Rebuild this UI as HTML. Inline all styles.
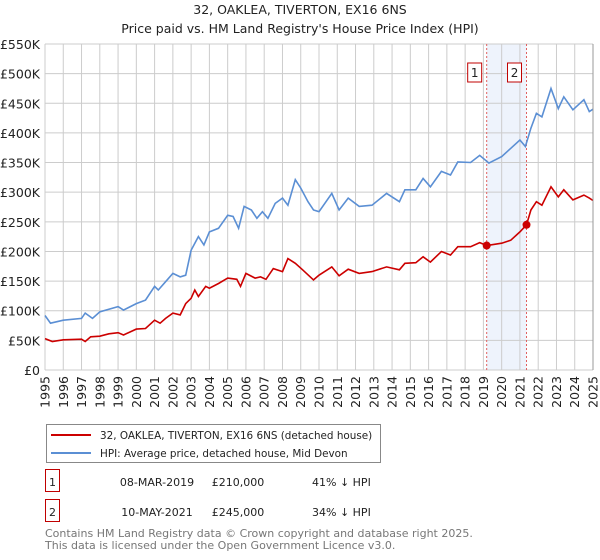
<!DOCTYPE html>
<html><head><meta charset="utf-8">
<style>
body{margin:0;background:#fff;font-family:"Liberation Sans","DejaVu Sans",sans-serif;}
#wrap{position:relative;width:600px;height:560px;overflow:hidden;}
svg text{font-family:"DejaVu Sans","Liberation Sans",sans-serif;}
</style></head><body>
<div id="wrap">
<svg id="chart" width="600" height="560"></svg>
</div>
<script>
const hpiYears=[1995,1995.3,1996,1997,1997.2,1997.6,1998,1999,1999.3,2000,2000.5,2001,2001.2,2001.6,2002,2002.4,2002.7,2003,2003.4,2003.7,2004,2004.5,2005,2005.3,2005.6,2005.9,2006.3,2006.6,2006.9,2007.2,2007.6,2008,2008.3,2008.7,2009,2009.4,2009.7,2010,2010.7,2011.1,2011.6,2012.2,2012.9,2013.7,2014.4,2014.7,2015.3,2015.7,2016.1,2016.7,2017.2,2017.6,2018.3,2018.8,2019.3,2020,2020.5,2021,2021.3,2021.6,2021.9,2022.2,2022.7,2023.1,2023.4,2023.9,2024.5,2024.8,2025];
const hpiValues=[92,79,84,87,96,87,98,107,101,112,118,141,135,149,163,157,160,202,225,211,233,239,261,259,239,276,270,256,267,256,281,290,278,321,307,284,270,267,298,270,290,276,278,298,284,304,304,323,309,335,329,351,350,362,349,360,374,388,377,408,433,427,475,441,461,439,456,436,440];
const priceYears=[1995,1995.4,1996,1997,1997.2,1997.5,1998,1998.5,1999,1999.3,2000,2000.5,2001,2001.3,2001.6,2002,2002.4,2002.7,2003,2003.2,2003.4,2003.8,2004,2004.5,2005,2005.5,2005.7,2006,2006.5,2006.8,2007.1,2007.5,2008,2008.3,2008.7,2009.1,2009.7,2010,2010.7,2011.1,2011.6,2012.2,2012.9,2013.7,2014.4,2014.7,2015.3,2015.7,2016.1,2016.7,2017.2,2017.6,2018.3,2018.8,2019.18,2020,2020.5,2021,2021.36,2021.6,2021.9,2022.2,2022.7,2023.1,2023.4,2023.9,2024.5,2024.8,2025];
const priceValues=[53,48,51,52,48,56,57,61,63,59,69,70,84,79,87,96,93,112,121,135,124,141,138,146,155,153,141,163,155,157,153,171,166,188,180,169,152,160,174,159,170,163,166,174,169,180,181,191,182,200,194,208,208,215,210,214,219,233,245,270,284,278,309,292,304,287,295,290,286];
const saleYears=[2019.18,2021.36];
const saleValues=[210,245];
const saleLabels=["1","2"];
const yTicks=[0,50,100,150,200,250,300,350,400,450,500,550];
const yTickLabels=["£0","£50K","£100K","£150K","£200K","£250K","£300K","£350K","£400K","£450K","£500K","£550K"];
const xTicks=[1995,1996,1997,1998,1999,2000,2001,2002,2003,2004,2005,2006,2007,2008,2009,2010,2011,2012,2013,2014,2015,2016,2017,2018,2019,2020,2021,2022,2023,2024,2025];

const NS="http://www.w3.org/2000/svg";
const svg=document.getElementById('chart');
const L=45,R=593,T=44,B=370;
const x=v=>L+(v-1995)/30*(R-L);
const y=v=>B-v/550*(B-T);
function mk(tag,attrs,parent){const e=document.createElementNS(NS,tag);for(const k in attrs)e.setAttribute(k,attrs[k]);(parent||svg).appendChild(e);return e;}

let t=mk('text',{x:300,y:14,'text-anchor':'middle','font-size':'12.5',fill:'#222'});t.textContent='32, OAKLEA, TIVERTON, EX16 6NS';


t=mk('text',{x:300,y:33,'text-anchor':'middle','font-size':'12.5',fill:'#222'});t.textContent="Price paid vs. HM Land Registry's House Price Index (HPI)";



let sh=mk('rect',{x:x(saleYears[0]),y:T,width:x(saleYears[1])-x(saleYears[0]),height:B-T,fill:'#eef3fc'});



yTicks.forEach((v,i)=>{
  const g=mk('line',{x1:L,x2:R,y1:y(v),y2:y(v),stroke:'#cccccc','stroke-width':1});
  
  
  const tl=mk('text',{x:L-5,y:y(v)+5,'text-anchor':'end','font-size':'12.5',fill:'#222'});tl.textContent=yTickLabels[i];
  
  
});
xTicks.forEach(v=>{
  const g=mk('line',{x1:x(v),x2:x(v),y1:T,y2:B,stroke:'#cccccc','stroke-width':1});
  
  
  const tl=mk('text',{x:0,y:0,'text-anchor':'end','font-size':'12.5',fill:'#222',transform:`translate(${x(v)+4.5},${B+6}) rotate(-90)`});tl.textContent=v;
  
  
});

saleYears.forEach((v,i)=>{
  const l=mk('line',{x1:x(v),x2:x(v),y1:T,y2:B,stroke:'#e06060','stroke-width':1,'stroke-dasharray':'2,2'});
  
  
  const r=mk('rect',{x:x(v)-19,y:63,width:14,height:19,fill:'#fff',stroke:'#c00000','stroke-width':1});
  
  
  const tt=mk('text',{x:x(v)-12,y:77,'text-anchor':'middle','font-size':'12',fill:'#222'});tt.textContent=saleLabels[i];
  
  
});

function pathFrom(xs,vs){return xs.map((xx,i)=>(i?'L':'M')+x(xx).toFixed(1)+','+y(vs[i]).toFixed(1)).join(' ');}
let hp=mk('path',{d:pathFrom(hpiYears,hpiValues),fill:'none',stroke:'#5b8fd4','stroke-width':1.6});


let pp=mk('path',{d:pathFrom(priceYears,priceValues),fill:'none',stroke:'#cc0000','stroke-width':1.6});


saleYears.forEach((v,i)=>{
  const c=mk('circle',{cx:x(v),cy:y(saleValues[i]),r:4,fill:'#cc0000'});
  
  
});
let ax=mk('line',{x1:R,x2:R,y1:T,y2:B,stroke:'#999','stroke-width':1});



const lg=mk('g',{});


mk('rect',{x:46.5,y:424.5,width:334,height:38,fill:'#fff',stroke:'#888'},lg);
let le=mk('line',{x1:51,x2:91,y1:435,y2:435,stroke:'#cc0000','stroke-width':2},lg);


t=mk('text',{x:100,y:439,'font-size':'10.4',fill:'#222'},lg);t.textContent='32, OAKLEA, TIVERTON, EX16 6NS (detached house)';


le=mk('line',{x1:51,x2:91,y1:453,y2:453,stroke:'#5b8fd4','stroke-width':2},lg);


t=mk('text',{x:100,y:457,'font-size':'10.4',fill:'#222'},lg);t.textContent='HPI: Average price, detached house, Mid Devon';



const rows=[["1","08-MAR-2019","£210,000","41% ↓ HPI",481],["2","10-MAY-2021","£245,000","34% ↓ HPI",511]];
rows.forEach(r=>{
  const g=mk('g',{});
  
  
  mk('rect',{x:45.5,y:r[4]-11.5,width:14,height:22,fill:'#fff',stroke:'#c00000'},g);
  let a=mk('text',{x:52.5,y:r[4]+5,'text-anchor':'middle','font-size':'11',fill:'#222'},g);a.textContent=r[0];
  a=mk('text',{x:157,y:r[4]+5,'text-anchor':'middle','font-size':'11',fill:'#222'},g);a.textContent=r[1];
  a=mk('text',{x:238,y:r[4]+5,'text-anchor':'middle','font-size':'11',fill:'#222'},g);a.textContent=r[2];
  a=mk('text',{x:312,y:r[4]+5,'font-size':'11',fill:'#222'},g);a.textContent=r[3];
});
t=mk('text',{x:45,y:537,'font-size':'11',fill:'#777'});t.textContent='Contains HM Land Registry data © Crown copyright and database right 2025.';


t=mk('text',{x:45,y:549,'font-size':'11',fill:'#777'});t.textContent='This data is licensed under the Open Government Licence v3.0.';


</script>
</body></html>
